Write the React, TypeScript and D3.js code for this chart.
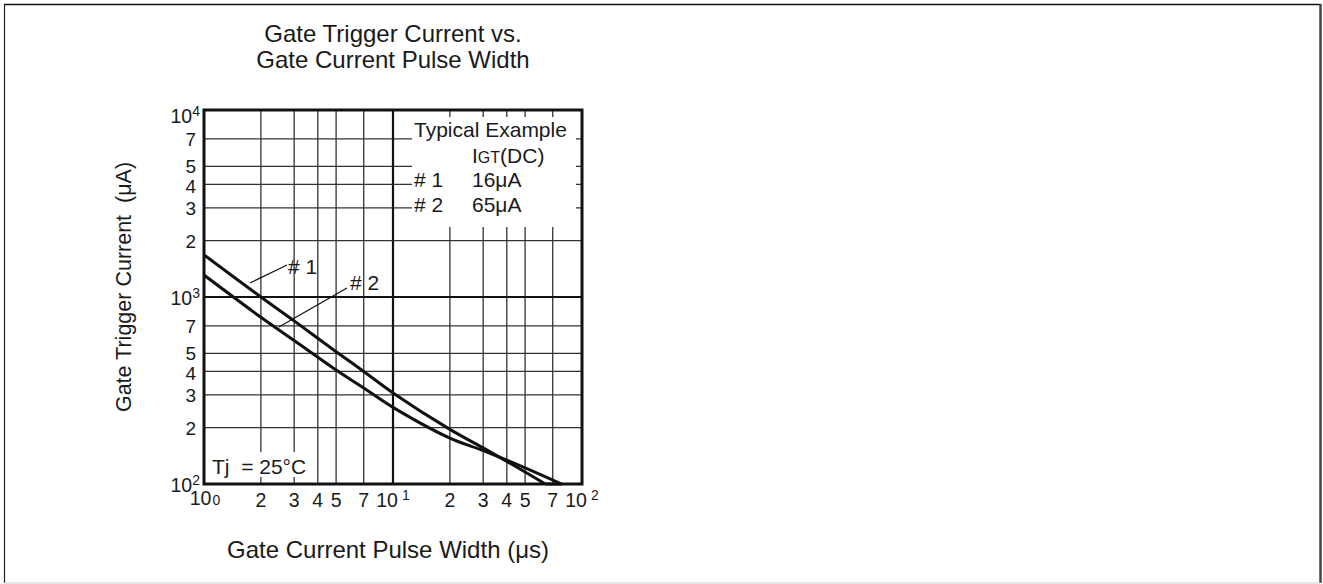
import React from "react";
import * as d3 from "d3";

// ---- data ----
const pulseWidth1 = [1, 2, 3, 5, 7, 10, 20, 30, 50, 64];
const igt1 = [1680, 1000, 745, 510, 400, 307, 196, 156, 116, 100];
const pulseWidth2 = [1, 2, 3, 5, 7, 10, 20, 30, 50, 78];
const igt2 = [1310, 779, 585, 407, 326, 257, 176, 151, 122, 100];

const xMinorTicks = [2, 3, 4, 5, 7, 20, 30, 40, 50, 70];
const xMinorLabels = ["2", "3", "4", "5", "7", "2", "3", "4", "5", "7"];
const xDecades = [1, 10, 100];
const xDecadeExp = ["0", "1", "2"];
const yMinorTicks = [200, 300, 400, 500, 700, 2000, 3000, 4000, 5000, 7000];
const yMinorLabels = ["2", "3", "4", "5", "7", "2", "3", "4", "5", "7"];
const yDecades = [100, 1000, 10000];
const yDecadeExp = ["2", "3", "4"];

const legendTitle = "Typical Example";
const legendRows = [
  { name: "# 1", value: "16μA" },
  { name: "# 2", value: "65μA" },
];
// annotation leaders in data units: [pwStart, iStart, pwEnd, iEnd]
const leader1 = [1.75, 1188, 2.75, 1483];
const leader2 = [2.49, 691, 5.71, 1117];

const W = 1323;
const H = 584;
const PL = 204, PR = 582, PT = 110, PB = 484;
const FONT = "'Liberation Sans', Arial, Helvetica, sans-serif";
const INK = "#1a1a1a";

// small vertical nudges for crowded y labels
const yLabelNudge: Record<string, number> = { "4": 1.5, "5": -0.5 };

export default function App() {
  const x = d3.scaleLog().domain([1, 100]).range([PL, PR]);
  const y = d3.scaleLog().domain([100, 10000]).range([PB, PT]);

  const line = d3
    .line<[number, number]>()
    .x((d) => x(d[0]))
    .y((d) => y(d[1]))
    .curve(d3.curveCatmullRom.alpha(0.5));

  const s1 = pulseWidth1.map((p, i) => [p, igt1[i]] as [number, number]);
  const s2 = pulseWidth2.map((p, i) => [p, igt2[i]] as [number, number]);

  const legX0 = 412, legX1 = 576, legY0 = 117, legY1 = 227;

  return (
    <svg
      width={W}
      height={H}
      style={{ position: "absolute", left: 0, top: 0, background: "#fff" }}
      fontFamily={FONT}
    >
      {/* page frame */}
      <line x1={4} y1={4.5} x2={1321} y2={4.5} stroke="#111" strokeWidth={1.5} />
      <line x1={4.5} y1={4} x2={4.5} y2={583} stroke="#222" strokeWidth={1.2} />
      <line x1={1320.5} y1={4} x2={1320.5} y2={583} stroke="#444" strokeWidth={2.5} />
      <line x1={4} y1={583} x2={1321} y2={583} stroke="#ccc" strokeWidth={1} />

      {/* title */}
      <text x={393} y={42} textAnchor="middle" fontSize={24} fill={INK}>
        Gate Trigger Current vs.
      </text>
      <text x={393} y={68} textAnchor="middle" fontSize={24} fill={INK}>
        Gate Current Pulse Width
      </text>

      <defs>
        <clipPath id="plotclip">
          <rect x={PL} y={PT} width={PR - PL} height={PB - PT} />
        </clipPath>
      </defs>

      {/* grid */}
      <g clipPath="url(#plotclip)">
        {xMinorTicks.map((t) => (
          <line key={"xv" + t} x1={x(t)} x2={x(t)} y1={PT} y2={PB} stroke="#333" strokeWidth={1.3} />
        ))}
        {yMinorTicks.map((t) => (
          <line key={"yh" + t} x1={PL} x2={PR} y1={y(t)} y2={y(t)} stroke="#333" strokeWidth={1.3} />
        ))}
        <line x1={x(10)} x2={x(10)} y1={PT} y2={PB} stroke="#111" strokeWidth={2.2} />
        <line x1={PL} x2={PR} y1={y(1000)} y2={y(1000)} stroke="#111" strokeWidth={2.2} />
      </g>

      {/* legend box */}
      <rect x={legX0} y={legY0} width={legX1 - legX0} height={legY1 - legY0} fill="#fff" />
      <text x={414} y={137} fontSize={21} fill={INK}>{legendTitle}</text>
      <text x={472} y={163} fontSize={21} fill={INK}>
        <tspan>I</tspan>
        <tspan fontSize={16}>GT</tspan>
        <tspan>(DC)</tspan>
      </text>
      {legendRows.map((r, i) => (
        <g key={r.name}>
          <text x={414} y={187 + i * 25} fontSize={21} fill={INK}>{r.name}</text>
          <text x={472} y={187 + i * 25} fontSize={21} fill={INK}>{r.value}</text>
        </g>
      ))}

      {/* Tj label */}
      <rect x={208} y={452} width={102} height={25} fill="#fff" />
      <text x={212} y={474} fontSize={21} fill={INK} style={{ whiteSpace: "pre" }}>
        {"Tj  = 25°C"}
      </text>

      {/* curves */}
      <g clipPath="url(#plotclip)">
        <path d={line(s1) || ""} fill="none" stroke="#111" strokeWidth={3} />
        <path d={line(s2) || ""} fill="none" stroke="#111" strokeWidth={3} />
      </g>
      {/* bottom run along the axis */}
      <line x1={x(64)} x2={x(78)} y1={y(100)} y2={y(100)} stroke="#111" strokeWidth={3} />

      {/* leaders */}
      <line x1={x(leader1[0])} y1={y(leader1[1])} x2={x(leader1[2])} y2={y(leader1[3])} stroke="#111" strokeWidth={1.2} />
      <text x={x(leader1[2]) + 1} y={y(leader1[3]) + 9} fontSize={21} fill={INK}># 1</text>
      <line x1={x(leader2[0])} y1={y(leader2[1])} x2={x(leader2[2])} y2={y(leader2[3])} stroke="#111" strokeWidth={1.2} />
      <text x={x(leader2[2]) + 3} y={y(leader2[3]) + 2} fontSize={21} fill={INK}># 2</text>

      {/* plot border */}
      <rect x={PL} y={PT} width={PR - PL} height={PB - PT} fill="none" stroke="#111" strokeWidth={3} />

      {/* x tick labels */}
      {xMinorTicks.map((t, i) => (
        <text key={"xl" + t} x={x(t)} y={507} textAnchor="middle" fontSize={19.5} fill={INK}>
          {xMinorLabels[i]}
        </text>
      ))}
      {xDecades.map((t, i) => (
        <text key={"xd" + t} x={x(t) + (i === 0 ? 1 : 0)} y={i === 0 ? 505 : 507} textAnchor="middle" fontSize={19.5} fill={INK}>
          <tspan>10</tspan>
          {i === 0 ? (
            <tspan fontSize={14} dx={1}>{xDecadeExp[i]}</tspan>
          ) : (
            <tspan fontSize={14} dx={4} dy={-7}>{xDecadeExp[i]}</tspan>
          )}
        </text>
      ))}

      {/* y tick labels */}
      {yMinorTicks.map((t, i) => (
        <text
          key={"yl" + t}
          x={196}
          y={y(t) + (yLabelNudge[yMinorLabels[i]] || 0)}
          dy="0.36em"
          textAnchor="end"
          fontSize={19}
          fill={INK}
        >
          {yMinorLabels[i]}
        </text>
      ))}
      {yDecades.map((t, i) => (
        <text key={"yd" + t} x={200} y={y(t) + (i === 2 ? 13 : 8)} textAnchor="end" fontSize={19.5} fill={INK}>
          <tspan>10</tspan>
          <tspan fontSize={14} dy={-7}>{yDecadeExp[i]}</tspan>
        </text>
      ))}

      {/* axis titles */}
      <text x={388} y={558} textAnchor="middle" fontSize={24} fill={INK}>
        Gate Current Pulse Width (μs)
      </text>
      <text
        transform={`translate(131, 287) rotate(-90)`}
        textAnchor="middle"
        fontSize={21.5}
        fill={INK}
        style={{ whiteSpace: "pre" }}
      >
        {"Gate Trigger Current  (μA)"}
      </text>
    </svg>
  );
}
